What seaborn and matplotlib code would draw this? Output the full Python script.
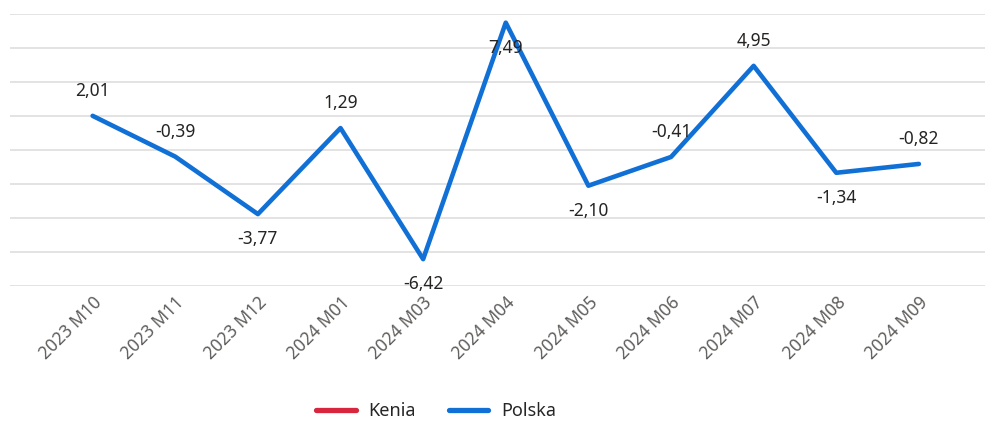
import matplotlib
matplotlib.use("Agg")
import matplotlib.pyplot as plt
from matplotlib.lines import Line2D
import pandas as pd
import seaborn as sns

months = ["2023 M10", "2023 M11", "2023 M12", "2024 M01", "2024 M03", "2024 M04",
          "2024 M05", "2024 M06", "2024 M07", "2024 M08", "2024 M09"]
polska = [2.01, -0.39, -3.77, 1.29, -6.42, 7.49, -2.10, -0.41, 4.95, -1.34, -0.82]
# label placement: +1 above the point, -1 below
label_side = [1, 1, -1, 1, -1, -1, -1, 1, 1, -1, 1]
series = ["Kenia", "Polska"]
colors = {"Kenia": "#d7263d", "Polska": "#1170d6"}

sns.set_style("white")
plt.rcParams["font.family"] = ["Noto Sans", "DejaVu Sans"]

df = pd.DataFrame({"month": months, "value": polska, "pos": range(len(months))})

fig = plt.figure(figsize=(9.85, 4.21), dpi=100)
ax = fig.add_axes([10 / 985, 1 - 286 / 421, 975 / 985, 272 / 421])
sns.lineplot(data=df, x="pos", y="value", color=colors["Polska"], lw=3.3,
             ax=ax, legend=False)

for i, (v, s) in enumerate(zip(polska, label_side)):
    txt = f"{v:.2f}".replace(".", ",")
    ax.annotate(txt, (i, v), xytext=(0, 18 * s), textcoords="offset points",
                ha="center", va="center", fontsize=12.5, color="#252423")

ax.set_ylim(-8, 8)
ax.set_xlim(-1.0, 10.8)
ax.set_yticks(range(-8, 9, 2))
ax.set_yticklabels([])
ax.yaxis.grid(True, color="#e1e1e1", lw=1.3)
ax.set_xticks(range(len(months)))
ax.set_xticklabels(months, rotation=45, ha="right", va="top",
                   rotation_mode="anchor", fontsize=12.5, color="#605e5c")
ax.tick_params(axis="x", length=0, pad=5)
ax.tick_params(axis="y", length=0)
ax.set_xlabel("")
ax.set_ylabel("")
for sp in ax.spines.values():
    sp.set_visible(False)

handles = [Line2D([], [], color=colors[s], lw=3.8) for s in series]
fig.legend(handles, series, loc="center", bbox_to_anchor=(436 / 985, 1 - 411 / 421),
           ncol=2, frameon=False, fontsize=13, handlelength=2.2, columnspacing=1.8,
           handletextpad=0.7)

fig.savefig("out.png", dpi=100)
